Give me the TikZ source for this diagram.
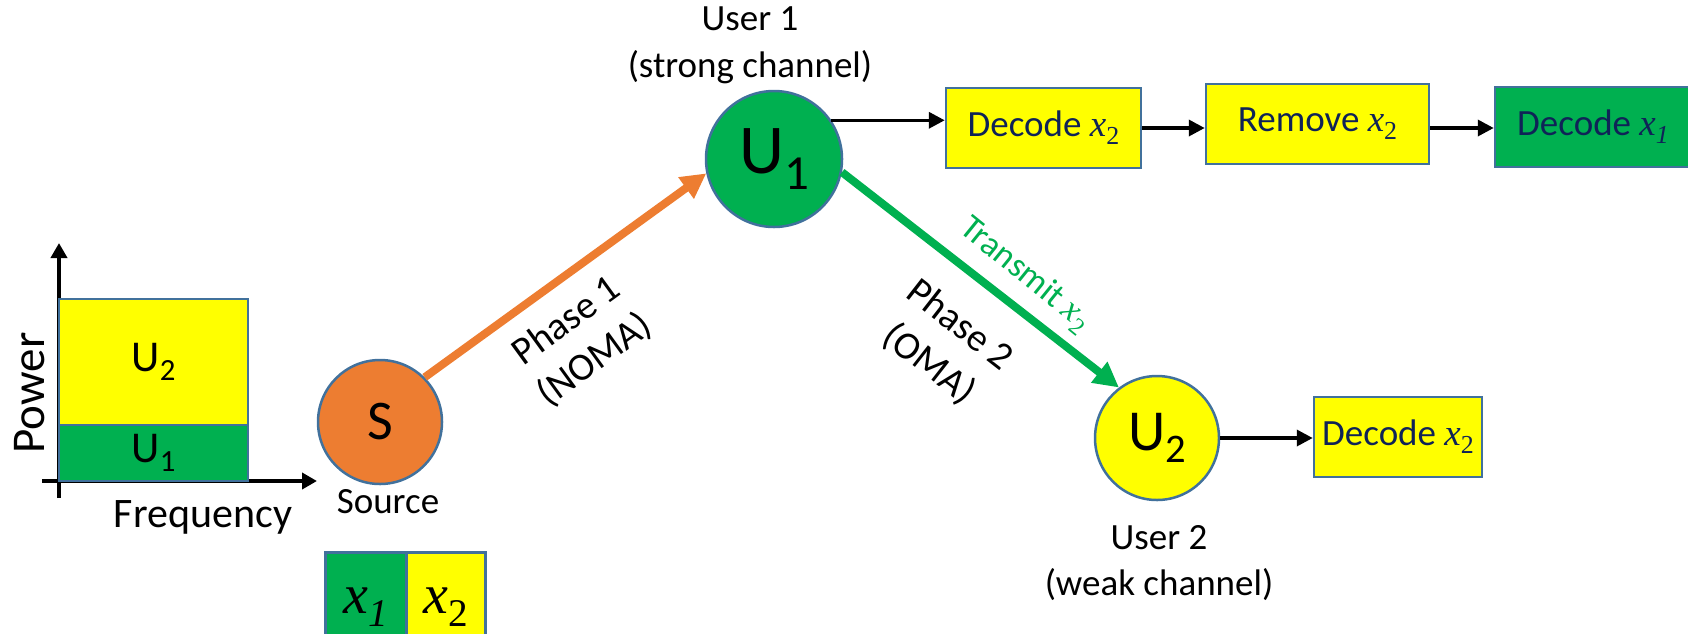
\documentclass[tikz,border=0pt]{standalone}
\usepackage{fontspec}
\usepackage{graphicx}
\setmainfont{Carlito}
\newfontfamily\serifx{Liberation Serif}
\usetikzlibrary{arrows.meta}

\definecolor{gr}{HTML}{00B050}
\definecolor{yl}{HTML}{FFFF00}
\definecolor{og}{HTML}{ED7D31}
\definecolor{edge}{HTML}{41719C}
\definecolor{navy}{HTML}{0F2357}

% font size in pt, single line
\newcommand\fs[1]{\fontsize{#1}{#1}\selectfont}
% italic x with a lowered index
\newcommand\vx[1]{{\serifx\itshape x}\raisebox{-0.22em}{\serifx\scalebox{0.7}{#1}}}
% lowered index for user labels
\newcommand\usub[1]{\raisebox{-0.22em}{\scalebox{0.7}{#1}}}

\tikzset{
  circ/.style={circle, draw=edge, line width=2.5pt, inner sep=0pt, minimum size=#1},
  cell/.style={draw=edge, line width=2.5pt, inner sep=0pt},
  box/.style={draw=edge, line width=2.5pt, fill=yl, inner sep=0pt,
    minimum height=80pt, text=navy, font=\fs{37}},
  blk/.style={line width=3.5pt, -{Triangle[length=16pt,width=16pt]}},
  axis/.style={line width=4pt, -{Triangle[length=15pt,width=16pt]}},
  link/.style={line width=8pt, -{Triangle[length=25pt,width=25pt]}},
  lbl/.style={inner sep=0pt, align=center},
}

\begin{document}
\begin{tikzpicture}[x=1pt,y=-1pt]
\useasboundingbox (0,0) rectangle (1688,633);
\clip (0,0) rectangle (1688,633);

% power / frequency chart
\coordinate (yb) at (59,498);
\coordinate (yt) at (59,243);
\coordinate (xl) at (42,481);
\coordinate (xr) at (317,481);
\draw[axis] (yb) -- (yt);
\draw[axis] (xl) -- (xr);
\node[cell, fill=yl, minimum width=189pt, minimum height=126pt, font=\fs{44}] (pu2) at (153.5,362) {U\usub{2}};
\node[cell, fill=gr, minimum width=189pt, minimum height=56pt, font=\fs{44}] (pu1) at (153.5,453) {U\usub{1}};
\node[lbl, rotate=90, font=\fs{47}] (pow) at (30,393) {Power};
\node[lbl, font=\fs{42}] (freq) at (203,517) {Frequency};

% source and users
\node[circ=124pt, fill=og, font=\fs{56}] (S) at (380,422) {S};
\node[circ=136pt, fill=gr, font=\fs{70}] (U1) at (774,159) {U\usub{1}};
\node[circ=124pt, fill=yl, font=\fs{58}] (U2) at (1157,438) {U\usub{2}};
\node[lbl, font=\fs{37}] (src) at (388,502) {Source};
\node[lbl, font=\fontsize{37}{47}\selectfont] (u1l) at (750,45) {User 1\\(strong channel)};
\node[lbl, font=\fontsize{37}{46}\selectfont] (u2l) at (1159,563) {User 2\\(weak channel)};

% superposed symbols
\node[cell, fill=gr, minimum width=81pt, minimum height=110pt, anchor=north west, font=\fs{56}] (c1) at (324,551) {\vx{\itshape 1}};
\node[cell, fill=yl, minimum width=79pt, minimum height=110pt, anchor=north west, font=\fs{56}] (c2) at (405,551) {\vx{2}};

% decoding chains
\node[box, minimum width=195pt] (d1) at (1043.5,128) {Decode \vx{2}};
\node[box, minimum width=223pt] (rm) at (1317.5,124) {Remove \vx{2}};
\node[box, fill=gr, minimum width=196pt] (d2) at (1593,127) {Decode \vx{\itshape 1}};
\node[box, minimum width=168pt] (d3) at (1398,437) {Decode \vx{2}};

\draw[blk] (U1.34) -- (U1.34 -| d1.west);
\draw[blk] (d1.east) -- (d1.east -| rm.west);
\draw[blk] (rm.east |- d1.east) -- (d1.east -| d2.west);
\draw[blk] (U2.east) -- (U2.east -| d3.west);

% transmission phases
\draw[link, og] (S.45) -- (U1.192);
\draw[link, gr] (U1.349) -- (U2.127);

\node[lbl, rotate=36, font=\fontsize{39}{48}\selectfont] (ph1) at (581,341) {Phase 1\\(NOMA)};
\node[lbl, rotate=-38, font=\fontsize{39}{50}\selectfont] (ph2) at (944,345) {Phase 2\\(OMA)};
\node[lbl, rotate=-39, text=gr, font=\fs{35}] (tx) at (1025,275) {Transmit \vx{2}};
\end{tikzpicture}
\end{document}
